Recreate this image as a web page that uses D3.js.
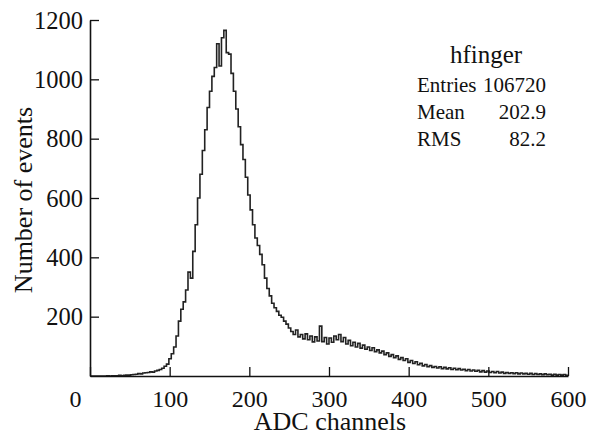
<!DOCTYPE html>
<html>
<head>
<meta charset="utf-8">
<script src="https://cdn.jsdelivr.net/npm/d3@7"></script>
<style>
  html, body { margin: 0; padding: 0; background: #fff; }
  svg { display: block; }
  text { font-family: "Liberation Serif", "DejaVu Serif", serif; fill: #111; }
</style>
</head>
<body>
<svg id="chart" width="589" height="436"></svg>
<script>
// ---- data ----
const binStarts = d3.range(0, 600, 3);
const counts = [
  0,0,0,0,0,0,0,1,0,1,
  1,1,2,1,2,3,3,4,5,6,
  8,7,10,11,12,14,13,17,19,22,
  26,33,40,58,75,98,135,185,225,250,
  290,350,330,420,510,600,680,760,830,905,
  960,1010,1040,1120,1045,1140,1165,1090,1085,1020,
  960,900,840,780,730,670,610,560,510,465,
  440,410,375,330,295,270,245,230,218,205,
  198,185,175,162,150,140,155,132,140,125,
  142,122,135,115,132,118,168,116,130,108,
  128,114,135,122,140,116,130,108,120,102,
  114,98,110,94,104,90,98,86,95,82,
  88,78,84,72,78,66,72,62,68,56,
  62,52,58,46,52,42,48,38,43,34,
  39,31,35,29,32,27,31,25,29,24,
  28,22,26,21,25,20,23,18,22,17,
  20,16,19,14,18,13,17,12,15,11,
  15,10,13,9,12,9,11,8,11,7,
  10,7,9,6,9,5,8,5,7,4,
  7,4,6,3,6,3,5,3,5,2
];
const xTicks = [0, 100, 200, 300, 400, 500, 600];
const yTicks = [200, 400, 600, 800, 1000, 1200];
const xTitle = "ADC channels";
const yTitle = "Number of events";
const statsTitle = "hfinger";
const statsLabels = ["Entries", "Mean", "RMS"];
const statsValues = ["106720", "202.9", "82.2"];

// ---- layout ----
const svg = d3.select("#chart");
const x = d3.scaleLinear().domain([0, 600]).range([90, 568]);
const y = d3.scaleLinear().domain([0, 1200]).range([376, 20]);

// histogram step line
const pts = binStarts.map((s, i) => [s, counts[i]]);
pts.push([600, counts[counts.length - 1]]);
const line = d3.line()
  .x(d => x(d[0]))
  .y(d => y(d[1]))
  .curve(d3.curveStepAfter);
svg.append("path")
  .attr("d", line(pts))
  .attr("fill", "none")
  .attr("stroke", "#222")
  .attr("stroke-width", 1.6)
  .attr("stroke-linejoin", "miter");

// axes
const xAxis = d3.axisBottom(x).tickValues(xTicks).tickSizeInner(-9).tickSizeOuter(0).tickFormat(d3.format("d"));
const gx = svg.append("g").attr("transform", "translate(0,376)").call(xAxis);
gx.select(".domain").attr("stroke", "#111").attr("stroke-width", 1.6);
gx.selectAll(".tick line").attr("stroke", "#111").attr("stroke-width", 1.3);
gx.selectAll(".tick text")
  .attr("y", 31).attr("dy", 0)
  .attr("font-size", 24)
  .attr("font-family", "Liberation Serif")
  .attr("fill", "#111")
  .attr("x", d => d === 0 ? -15 : 0);

const yAxis = d3.axisLeft(y).tickValues(yTicks).tickSizeInner(-9).tickSizeOuter(0).tickFormat(d3.format("d"));
const gy = svg.append("g").attr("transform", "translate(90,0)").call(yAxis);
gy.select(".domain").attr("stroke", "#111").attr("stroke-width", 1.6);
gy.selectAll(".tick line").attr("stroke", "#111").attr("stroke-width", 1.3);
gy.selectAll(".tick text")
  .attr("x", -7).attr("dy", 8)
  .attr("font-size", 24.5)
  .attr("font-family", "Liberation Serif")
  .attr("fill", "#111");

// axis titles
svg.append("text")
  .attr("x", 330).attr("y", 430)
  .attr("text-anchor", "middle")
  .attr("font-size", 26)
  .text(xTitle);
svg.append("text")
  .attr("transform", "translate(32,200) rotate(-90)")
  .attr("text-anchor", "middle")
  .attr("font-size", 26)
  .text(yTitle);

// stats box text
svg.append("text")
  .attr("x", 486).attr("y", 63)
  .attr("text-anchor", "middle")
  .attr("font-size", 25)
  .text(statsTitle);
statsLabels.forEach((lab, i) => {
  svg.append("text").attr("x", 417).attr("y", 92 + i * 27)
    .attr("font-size", 21).text(lab);
  svg.append("text").attr("x", 546).attr("y", 92 + i * 27)
    .attr("text-anchor", "end")
    .attr("font-size", 21).text(statsValues[i]);
});
</script>
</body>
</html>
